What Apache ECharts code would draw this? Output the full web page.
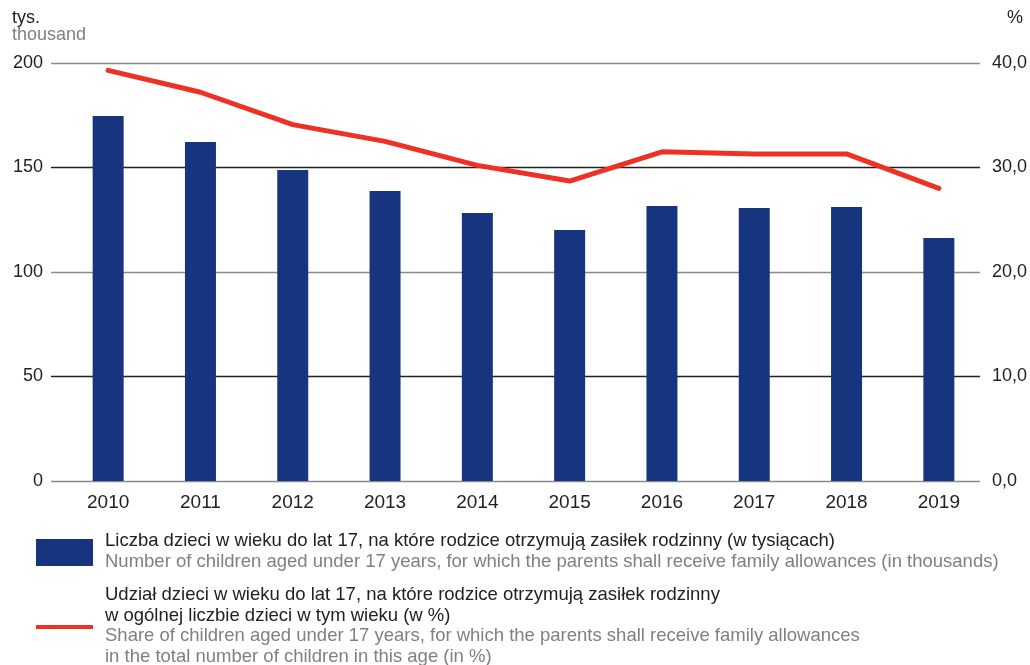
<!DOCTYPE html>
<html>
<head>
<meta charset="utf-8">
<script src="https://cdn.jsdelivr.net/npm/echarts@6/dist/echarts.min.js"></script>
<style>html,body{margin:0;padding:0;background:#fff}#c{width:1030px;height:665px}</style>
</head>
<body>
<div id="c"></div>
<script>
const years = ['2010','2011','2012','2013','2014','2015','2016','2017','2018','2019'];
const childrenThousands = [174.6, 162.2, 148.8, 138.8, 128.2, 120.1, 131.6, 130.6, 131.1, 116.3];
const sharePercent = [39.3, 37.2, 34.1, 32.5, 30.2, 28.7, 31.5, 31.3, 31.3, 28.0];
const leftTicks = [0, 50, 100, 150, 200];
const rightTicks = ['0,0', '10,0', '20,0', '30,0', '40,0'];

const FONT = "'Liberation Sans', Arial, sans-serif";
const LEG = '18.5px ' + FONT;
const chart = echarts.init(document.getElementById('c'), null, {renderer: 'canvas'});
const option = {
  animation: false,
  backgroundColor: '#fff',
  textStyle: {fontFamily: FONT},
  grid: [
    {left: 51, right: 50, top: 63, bottom: 184},
    {left: 62, right: 45, top: 63, bottom: 184}
  ],
  xAxis: [
    {gridIndex: 0, type: 'category', data: years, show: false},
    {gridIndex: 1, type: 'category', data: years,
      axisLine: {show: false}, axisTick: {show: false},
      axisLabel: {color: '#222', fontSize: 19, margin: 12, fontFamily: FONT}}
  ],
  yAxis: [
    {gridIndex: 0, type: 'value', min: leftTicks[0], max: leftTicks[leftTicks.length-1], interval: 50,
      axisLine: {show: false}, axisTick: {show: false},
      axisLabel: {color: '#222', fontSize: 18, margin: 8, fontFamily: FONT},
      splitLine: {lineStyle: {color: ['#8a8a8a', '#222'], width: 1.3}}},
    {gridIndex: 0, type: 'value', position: 'right', min: 0, max: 40, interval: 10,
      axisLine: {show: false}, axisTick: {show: false}, splitLine: {show: false},
      axisLabel: {color: '#222', fontSize: 18, margin: 12, fontFamily: FONT,
        formatter: (v) => rightTicks[Math.round(v / 10)]}},
    {gridIndex: 1, type: 'value', min: 0, max: 200, interval: 50, show: false, splitLine: {show: false}},
    {gridIndex: 1, type: 'value', min: 0, max: 40, interval: 10, show: false, splitLine: {show: false}}
  ],
  series: [
    {type: 'bar', xAxisIndex: 1, yAxisIndex: 2, data: childrenThousands, barWidth: 31,
      itemStyle: {color: '#17357f'}, z: 2},
    {type: 'line', xAxisIndex: 1, yAxisIndex: 3, data: sharePercent, symbol: 'none',
      lineStyle: {color: '#ee3124', width: 5, cap: 'round', join: 'round'}, z: 3}
  ],
  graphic: [
    {type: 'text', left: 12, top: 9, style: {text: 'tys.', fill: '#222', font: '18px ' + FONT}},
    {type: 'text', left: 12, top: 26, style: {text: 'thousand', fill: '#808080', font: '18px ' + FONT}},
    {type: 'text', left: 1007, top: 9, style: {text: '%', fill: '#222', font: '18px ' + FONT}},
    {type: 'rect', shape: {x: 36, y: 539, width: 57, height: 27}, style: {fill: '#17357f'}},
    {type: 'rect', shape: {x: 36, y: 625, width: 57, height: 4}, style: {fill: '#ee3124'}},
    {type: 'text', x: 105, y: 541, style: {text: 'Liczba dzieci w wieku do lat 17, na które rodzice otrzymują zasiłek rodzinny (w tysiącach)', fill: '#222', font: LEG, verticalAlign: 'middle'}},
    {type: 'text', x: 105, y: 562, style: {text: 'Number of children aged under 17 years, for which the parents shall receive family allowances (in thousands)', fill: '#808080', font: LEG, verticalAlign: 'middle'}},
    {type: 'text', x: 105, y: 595, style: {text: 'Udział dzieci w wieku do lat 17, na które rodzice otrzymują zasiłek rodzinny', fill: '#222', font: LEG, verticalAlign: 'middle'}},
    {type: 'text', x: 105, y: 616, style: {text: 'w ogólnej liczbie dzieci w tym wieku (w %)', fill: '#222', font: LEG, verticalAlign: 'middle'}},
    {type: 'text', x: 105, y: 636, style: {text: 'Share of children aged under 17 years, for which the parents shall receive family allowances', fill: '#808080', font: LEG, verticalAlign: 'middle'}},
    {type: 'text', x: 105, y: 657, style: {text: 'in the total number of children in this age (in %)', fill: '#808080', font: LEG, verticalAlign: 'middle'}}
  ]
};
chart.setOption(option);
</script>
</body>
</html>
